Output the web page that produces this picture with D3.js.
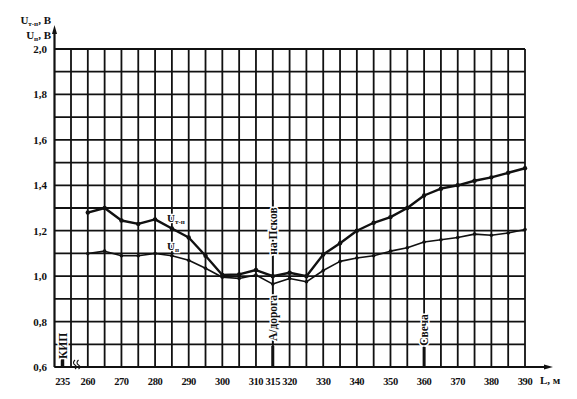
<!DOCTYPE html>
<html><head><meta charset="utf-8">
<script src="https://cdn.jsdelivr.net/npm/d3@7"></script>
<style>body{margin:0;background:#fff}svg{display:block}text{font-family:"Liberation Serif","DejaVu Serif",serif;font-weight:bold;fill:#111}</style>
</head><body>
<svg id="c" width="577" height="399"></svg>
<script>
// ---- data ----
const distance = [260,265,270,275,280,285,290,295,300,305,310,315,320,325,330,335,340,345,350,355,360,365,370,375,380,385,390];
const uTP = [1.28,1.30,1.245,1.23,1.25,1.21,1.17,1.09,1.005,1.008,1.027,1.0,1.015,1.0,1.095,1.145,1.20,1.235,1.26,1.30,1.355,1.385,1.40,1.42,1.435,1.455,1.475];
const uN  = [1.10,1.11,1.09,1.09,1.10,1.09,1.07,1.035,0.995,0.99,1.005,0.965,0.99,0.975,1.025,1.065,1.08,1.09,1.11,1.125,1.15,1.16,1.17,1.185,1.18,1.19,1.205];
const xTicks = [235,260,270,280,290,300,310,315,320,330,340,350,360,370,380,390];
const yTicks = [0.6,0.8,1.0,1.2,1.4,1.6,1.8,2.0];
const yTickLabels = ["0,6","0,8","1,0","1,2","1,4","1,6","1,8","2,0"];
const markers = [
  {at:235, label:"КИП"},
  {at:315, label:"А/дорога", label2:"на Псков"},
  {at:360, label:"Свеча"}
];

const svg = d3.select("#c");
const ink = "#111";
const x = d3.scaleLinear().domain([235,255,390]).range([62.5,71,525]);
const y = d3.scaleLinear().domain([0.6,2.0]).range([367,49]);
const axisX = 54.5;

// grid
const g = svg.append("g").attr("stroke",ink).attr("stroke-width",1.8);
d3.range(255,391,5).forEach(v=>{
  g.append("line").attr("x1",x(v)).attr("x2",x(v)).attr("y1",y(2.0)).attr("y2",y(0.6));
});
d3.range(0,15).map(i=>0.6+i*0.1).forEach(v=>{
  g.append("line").attr("x1",axisX).attr("x2",x(390)).attr("y1",y(v)).attr("y2",y(v));
});
// axes
svg.append("line").attr("x1",axisX).attr("x2",axisX).attr("y1",y(0.6)).attr("y2",30).attr("stroke",ink).attr("stroke-width",2.2);
svg.append("path").attr("d",`M${axisX},25 L${axisX-2.5},34 L${axisX+2.5},34Z`).attr("fill",ink);
svg.append("line").attr("x1",axisX).attr("x2",548).attr("y1",y(0.6)).attr("y2",y(0.6)).attr("stroke",ink).attr("stroke-width",2.2);
svg.append("path").attr("d",`M553,${y(0.6)} L544,${y(0.6)-2.5} L544,${y(0.6)+2.5}Z`).attr("fill",ink);

// break symbol
svg.append("path").attr("d","M75,369 q3,-2 0,-4 q-3,-2 0,-5 M78.5,369 q3,-2 0,-4 q-3,-2 0,-5")
  .attr("fill","none").attr("stroke",ink).attr("stroke-width",1.1);

// tick labels
svg.append("g").selectAll("text").data(yTicks).join("text")
  .attr("x",47).attr("y",d=>y(d)+4).attr("text-anchor","end").attr("font-size",11)
  .text((d,i)=>yTickLabels[i]);
svg.append("g").selectAll("text").data(xTicks).join("text")
  .attr("x",d=>x(d)).attr("y",385).attr("text-anchor","middle").attr("font-size",10.5)
  .attr("letter-spacing",-0.4)
  .text(d=>d);
svg.append("text").attr("x",540).attr("y",384).attr("font-size",11).text("L, м");

// axis title
const t1 = svg.append("text").attr("x",51).attr("y",24).attr("text-anchor","end").attr("font-size",11);
t1.append("tspan").text("U");
t1.append("tspan").attr("font-size",7).attr("dy",2).text("т-п");
t1.append("tspan").attr("dy",-2).text(", В");
const t2 = svg.append("text").attr("x",51).attr("y",39).attr("text-anchor","end").attr("font-size",11);
t2.append("tspan").text("U");
t2.append("tspan").attr("font-size",7).attr("dy",2).text("п");
t2.append("tspan").attr("dy",-2).text(", В");

// markers
markers.forEach(m=>{
  const mx = x(m.at);
  if (m.at===235){
    svg.append("line").attr("x1",mx).attr("x2",mx).attr("y1",359).attr("y2",367).attr("stroke",ink).attr("stroke-width",3.5);
    svg.append("text").attr("transform",`translate(${mx+4},346) rotate(-90)`).attr("text-anchor","middle")
      .attr("font-size",11.5).attr("stroke","#fff").attr("stroke-width",3).attr("paint-order","stroke").text(m.label);
  } else if (m.at===315){
    svg.append("line").attr("x1",mx).attr("x2",mx).attr("y1",200).attr("y2",367).attr("stroke",ink).attr("stroke-width",1.6);
    svg.append("line").attr("x1",mx).attr("x2",mx).attr("y1",346).attr("y2",367).attr("stroke",ink).attr("stroke-width",3);
    svg.append("text").attr("transform",`translate(${mx+4},318) rotate(-90)`).attr("text-anchor","middle")
      .attr("font-size",11.5).attr("stroke","#fff").attr("stroke-width",3).attr("paint-order","stroke").text(m.label);
    svg.append("text").attr("transform",`translate(${mx+4},231) rotate(-90)`).attr("text-anchor","middle")
      .attr("font-size",11.5).attr("stroke","#fff").attr("stroke-width",3).attr("paint-order","stroke").text(m.label2);
  } else {
    svg.append("line").attr("x1",mx).attr("x2",mx).attr("y1",316).attr("y2",367).attr("stroke",ink).attr("stroke-width",1.6);
    svg.append("line").attr("x1",mx).attr("x2",mx).attr("y1",347).attr("y2",367).attr("stroke",ink).attr("stroke-width",3);
    svg.append("text").attr("transform",`translate(${mx+4},330) rotate(-90)`).attr("text-anchor","middle")
      .attr("font-size",11.5).attr("stroke","#fff").attr("stroke-width",3).attr("paint-order","stroke").text(m.label);
  }
});

// series
const line = d3.line().x((d,i)=>x(distance[i])).y(d=>y(d));
[[uN,1.6],[uTP,2.4]].forEach(([s,w])=>{
  svg.append("path").datum(s).attr("d",line).attr("fill","none").attr("stroke",ink).attr("stroke-width",w).attr("stroke-linejoin","round");
  svg.append("g").selectAll("circle").data(s).join("circle")
    .attr("cx",(d,i)=>x(distance[i])).attr("cy",d=>y(d)).attr("r",w>2?2.2:1.8).attr("fill",ink);
});

// series labels
const l1 = svg.append("text").attr("x",167).attr("y",222).attr("font-size",11).attr("stroke","#fff").attr("stroke-width",2.5).attr("paint-order","stroke");
l1.append("tspan").text("U");
l1.append("tspan").attr("font-size",7).attr("dy",2).text("т-п");
const l2 = svg.append("text").attr("x",167).attr("y",250).attr("font-size",11).attr("stroke","#fff").attr("stroke-width",2.5).attr("paint-order","stroke");
l2.append("tspan").text("U");
l2.append("tspan").attr("font-size",7).attr("dy",2).text("п");
</script>
</body></html>
